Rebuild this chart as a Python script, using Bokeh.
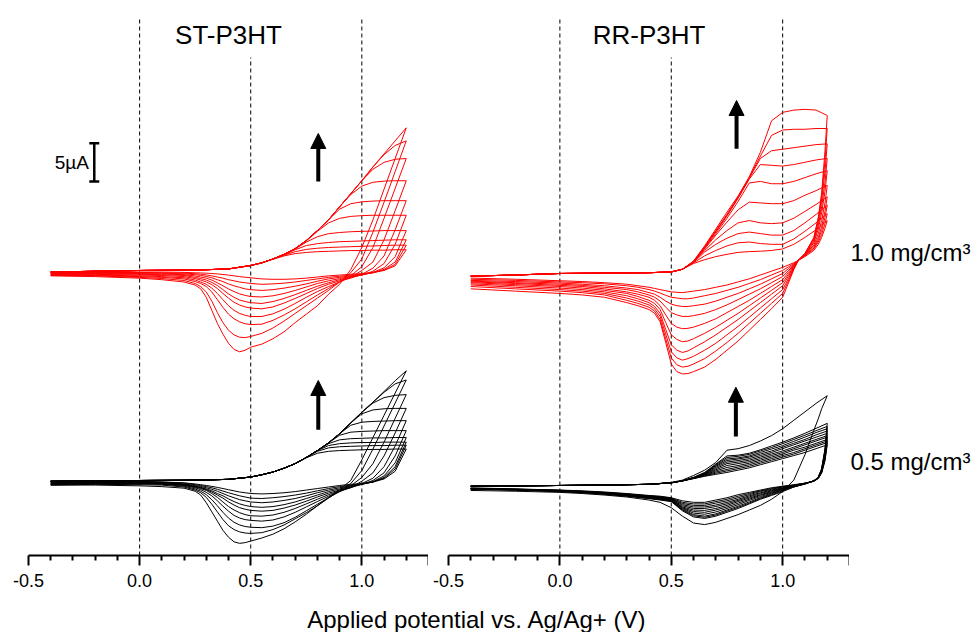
from bokeh.plotting import figure
from bokeh.models import (Range1d, FixedTicker, CustomJSTickFormatter, Label, Arrow,
                          NormalHead, ColumnDataSource)
from bokeh.layouts import row, column
from bokeh.embed import file_html
from bokeh.resources import INLINE

FONT = "Liberation Sans"
RED = "#ff0000"

# ---------------- data (potential in V vs Ag/Ag+, current in uA) ----------------
PANEL_TITLES = ["ST-P3HT", "RR-P3HT"]
CONC_LABELS = ["1.0 mg/cm\u00b3", "0.5 mg/cm\u00b3"]
MAJOR_TICKS = [-0.5, 0.0, 0.5, 1.0, 1.3]
LABELLED_TICKS = [-0.5, 0.0, 0.5, 1.0]
MINOR_TICKS = [-0.4, -0.3, -0.2, -0.1, 0.1, 0.2, 0.3, 0.4, 0.6, 0.7, 0.8, 0.9, 1.1, 1.2]
GUIDE_E = [0.0, 0.5, 1.0]
SCALE_BAR_UA = 5.0

ST_FWD_E = [-0.4, 0.0, 0.2, 0.3, 0.4, 0.5, 0.55, 0.6, 0.65, 0.7, 0.75, 0.8, 0.85, 0.9, 0.95, 1.0, 1.05, 1.1, 1.15, 1.2]
ST_REV_E = [1.2, 1.15, 1.1, 1.05, 1.0, 0.95, 0.9, 0.85, 0.8, 0.75, 0.7, 0.65, 0.6, 0.55, 0.5,
            0.475, 0.45, 0.425, 0.4, 0.375, 0.35, 0.325, 0.3, 0.275, 0.25, 0.2, 0.1, 0.0, -0.2, -0.4]

ST_RED_FWD = [
    [-0.2, 0.0, 0.05, 0.1, 0.2, 0.65, 1.0, 1.45, 1.9, 2.2, 2.35, 2.45, 2.5, 2.55, 2.6, 2.6, 2.65, 2.65, 2.7, 2.7],
    [-0.2, 0.0, 0.05, 0.1, 0.2, 0.65, 1.0, 1.5, 2.0, 2.45, 2.75, 2.9, 3.0, 3.05, 3.1, 3.15, 3.2, 3.25, 3.3, 3.3],
    [-0.2, 0.0, 0.05, 0.1, 0.2, 0.65, 1.0, 1.5, 2.05, 2.7, 3.25, 3.5, 3.65, 3.75, 3.8, 3.85, 3.9, 3.95, 4.0, 4.0],
    [-0.2, 0.0, 0.05, 0.1, 0.2, 0.65, 1.0, 1.5, 2.1, 2.8, 3.7, 4.4, 4.8, 4.95, 5.05, 5.1, 5.15, 5.2, 5.2, 5.2],
    [-0.2, 0.0, 0.05, 0.1, 0.2, 0.65, 1.0, 1.5, 2.1, 2.85, 3.85, 5.1, 6.2, 6.8, 7.05, 7.15, 7.2, 7.2, 7.2, 7.2],
    [-0.2, 0.0, 0.05, 0.1, 0.2, 0.65, 1.0, 1.5, 2.1, 2.85, 3.9, 5.2, 6.6, 8.0, 8.7, 8.95, 9.05, 9.1, 9.1, 9.1],
    [-0.2, 0.0, 0.05, 0.1, 0.2, 0.65, 1.0, 1.5, 2.1, 2.85, 3.9, 5.2, 6.6, 8.3, 9.9, 11.0, 11.5, 11.65, 11.7, 11.7],
    [-0.2, 0.0, 0.05, 0.1, 0.2, 0.65, 1.0, 1.5, 2.1, 2.85, 3.9, 5.2, 6.6, 8.3, 10.0, 11.7, 13.2, 14.1, 14.5, 14.6],
    [-0.2, 0.0, 0.05, 0.1, 0.2, 0.65, 1.0, 1.5, 2.1, 2.85, 3.9, 5.2, 6.6, 8.3, 10.0, 11.7, 13.5, 15.1, 16.3, 16.9],
    [-0.2, 0.0, 0.05, 0.1, 0.2, 0.65, 1.0, 1.5, 2.1, 2.85, 3.9, 5.2, 6.6, 8.3, 10.0, 11.7, 13.5, 15.2, 16.9, 18.6],
]
ST_RED_REV = [
    [2.7, 0.6, 0.0, -0.25, -0.4, -0.5, -0.6, -0.7, -0.85, -1.0, -1.1, -1.15, -1.15, -1.1, -0.95,
     -0.88, -0.8, -0.7, -0.6, -0.52, -0.45, -0.4, -0.35, -0.32, -0.3, -0.25, -0.2, -0.2, -0.2, -0.25],
    [3.3, 0.8, 0.05, -0.3, -0.5, -0.6, -0.75, -0.9, -1.1, -1.3, -1.5, -1.65, -1.75, -1.8, -1.7,
     -1.6, -1.5, -1.35, -1.2, -1.0, -0.85, -0.7, -0.58, -0.48, -0.42, -0.35, -0.3, -0.25, -0.25, -0.3],
    [4.0, 1.1, 0.15, -0.3, -0.55, -0.7, -0.9, -1.1, -1.4, -1.75, -2.05, -2.3, -2.5, -2.6, -2.5,
     -2.4, -2.2, -2.0, -1.75, -1.45, -1.2, -0.95, -0.78, -0.65, -0.55, -0.45, -0.35, -0.3, -0.3, -0.35],
    [5.2, 1.8, 0.35, -0.25, -0.6, -0.8, -1.05, -1.35, -1.7, -2.15, -2.6, -3.0, -3.3, -3.45, -3.4,
     -3.25, -3.05, -2.75, -2.4, -2.0, -1.6, -1.25, -1.0, -0.85, -0.72, -0.55, -0.45, -0.4, -0.4, -0.4],
    [7.2, 3.4, 0.9, -0.1, -0.6, -0.9, -1.2, -1.6, -2.05, -2.6, -3.15, -3.65, -4.05, -4.3, -4.2,
     -4.05, -3.85, -3.5, -3.05, -2.5, -1.95, -1.55, -1.25, -1.05, -0.9, -0.65, -0.55, -0.5, -0.45, -0.45],
    [9.1, 5.3, 1.9, 0.3, -0.5, -1.0, -1.35, -1.8, -2.35, -3.0, -3.65, -4.25, -4.75, -5.0, -4.9,
     -4.75, -4.5, -4.15, -3.6, -3.0, -2.35, -1.85, -1.5, -1.25, -1.05, -0.8, -0.65, -0.6, -0.5, -0.5],
    [11.7, 7.8, 4.0, 1.1, 0.0, -0.9, -1.5, -2.1, -2.75, -3.5, -4.3, -5.05, -5.65, -6.0, -6.0,
     -5.85, -5.6, -5.2, -4.6, -3.8, -3.0, -2.3, -1.8, -1.5, -1.25, -0.95, -0.8, -0.7, -0.6, -0.55],
    [14.6, 10.7, 6.8, 3.0, 0.5, -0.7, -1.5, -2.35, -3.2, -4.1, -5.0, -5.8, -6.5, -7.0, -7.05,
     -6.95, -6.7, -6.3, -5.7, -4.8, -3.8, -2.8, -2.1, -1.7, -1.45, -1.1, -0.9, -0.8, -0.65, -0.6],
    [16.9, 12.9, 8.9, 5.0, 1.5, -0.3, -1.5, -2.6, -3.6, -4.6, -5.6, -6.6, -7.5, -8.2, -8.6,
     -8.75, -8.7, -8.4, -7.8, -6.8, -5.5, -4.0, -2.8, -2.1, -1.7, -1.3, -1.05, -0.9, -0.7, -0.65],
    [18.6, 14.6, 10.6, 6.6, 3.0, 0.1, -1.8, -3.1, -4.6, -5.7, -6.8, -8.0, -8.9, -9.6, -10.0,
     -10.4, -10.6, -10.3, -9.5, -8.3, -6.9, -5.2, -3.5, -2.4, -1.9, -1.5, -1.2, -1.0, -0.8, -0.7],
]

ST_BLACK_FWD = [
    [-0.1, 0.0, 0.03, 0.07, 0.15, 0.45, 0.75, 1.1, 1.6, 2.2, 2.95, 3.55, 3.8, 3.9, 3.95, 4.0, 4.05, 4.05, 4.1, 4.1],
    [-0.1, 0.0, 0.03, 0.07, 0.15, 0.45, 0.75, 1.1, 1.6, 2.2, 3.0, 3.8, 4.25, 4.4, 4.45, 4.5, 4.55, 4.55, 4.6, 4.6],
    [-0.1, 0.0, 0.03, 0.07, 0.15, 0.45, 0.75, 1.1, 1.6, 2.2, 3.0, 3.9, 4.55, 4.8, 4.9, 4.95, 4.95, 5.0, 5.0, 5.0],
    [-0.1, 0.0, 0.03, 0.07, 0.15, 0.45, 0.75, 1.1, 1.6, 2.2, 3.0, 3.9, 4.8, 5.3, 5.45, 5.5, 5.55, 5.55, 5.6, 5.6],
    [-0.1, 0.0, 0.03, 0.07, 0.15, 0.45, 0.75, 1.1, 1.6, 2.2, 3.0, 3.9, 4.9, 5.9, 6.3, 6.4, 6.45, 6.5, 6.5, 6.5],
    [-0.1, 0.0, 0.03, 0.07, 0.15, 0.45, 0.75, 1.1, 1.6, 2.2, 3.0, 3.9, 4.9, 6.1, 7.2, 7.6, 7.7, 7.75, 7.8, 7.8],
    [-0.1, 0.0, 0.03, 0.07, 0.15, 0.45, 0.75, 1.1, 1.6, 2.2, 3.0, 3.9, 4.9, 6.1, 7.5, 8.7, 9.2, 9.35, 9.4, 9.4],
    [-0.1, 0.0, 0.03, 0.07, 0.15, 0.45, 0.75, 1.1, 1.6, 2.2, 3.0, 3.9, 4.9, 6.1, 7.5, 8.9, 10.1, 10.8, 11.1, 11.2],
    [-0.1, 0.0, 0.03, 0.07, 0.15, 0.45, 0.75, 1.1, 1.6, 2.2, 3.0, 3.9, 4.9, 6.1, 7.5, 8.9, 10.2, 11.5, 12.6, 13.1],
    [-0.1, 0.0, 0.03, 0.07, 0.15, 0.45, 0.75, 1.1, 1.6, 2.2, 3.0, 3.9, 4.9, 6.1, 7.5, 8.9, 10.2, 11.6, 13.0, 14.3],
]
ST_BLACK_REV = [
    [4.1, 1.2, 0.2, -0.2, -0.4, -0.5, -0.65, -0.85, -1.05, -1.25, -1.45, -1.6, -1.7, -1.75, -1.7,
     -1.6, -1.5, -1.35, -1.2, -1.05, -0.9, -0.77, -0.65, -0.55, -0.45, -0.3, -0.2, -0.1, -0.1, -0.2],
    [4.6, 1.5, 0.3, -0.2, -0.45, -0.6, -0.8, -1.05, -1.35, -1.65, -1.9, -2.1, -2.25, -2.35, -2.3,
     -2.15, -2.0, -1.8, -1.6, -1.38, -1.15, -0.95, -0.8, -0.66, -0.55, -0.35, -0.2, -0.15, -0.15, -0.25],
    [5.0, 1.8, 0.4, -0.2, -0.5, -0.7, -0.95, -1.25, -1.6, -2.0, -2.35, -2.6, -2.8, -2.9, -2.8,
     -2.65, -2.5, -2.25, -2.0, -1.7, -1.4, -1.15, -0.95, -0.78, -0.65, -0.45, -0.25, -0.2, -0.2, -0.3],
    [5.6, 2.3, 0.6, -0.15, -0.5, -0.8, -1.1, -1.45, -1.9, -2.35, -2.8, -3.15, -3.4, -3.5, -3.4,
     -3.25, -3.05, -2.75, -2.4, -2.0, -1.7, -1.35, -1.1, -0.9, -0.75, -0.5, -0.3, -0.25, -0.25, -0.35],
    [6.5, 3.2, 1.0, 0.0, -0.5, -0.9, -1.25, -1.65, -2.15, -2.7, -3.2, -3.6, -3.9, -4.0, -3.9,
     -3.75, -3.55, -3.2, -2.8, -2.3, -1.9, -1.5, -1.2, -0.95, -0.8, -0.55, -0.35, -0.3, -0.3, -0.4],
    [7.8, 4.5, 1.8, 0.3, -0.4, -0.95, -1.35, -1.85, -2.45, -3.05, -3.65, -4.15, -4.5, -4.65, -4.6,
     -4.45, -4.2, -3.85, -3.4, -2.8, -2.2, -1.7, -1.3, -1.05, -0.85, -0.6, -0.4, -0.35, -0.35, -0.45],
    [9.4, 6.2, 3.2, 1.0, -0.1, -0.9, -1.45, -2.05, -2.75, -3.45, -4.15, -4.75, -5.15, -5.3, -5.2,
     -5.1, -4.9, -4.55, -4.0, -3.35, -2.65, -2.0, -1.55, -1.2, -0.95, -0.65, -0.45, -0.4, -0.4, -0.5],
    [11.2, 8.1, 5.0, 2.2, 0.4, -0.7, -1.45, -2.25, -3.1, -3.95, -4.8, -5.5, -5.95, -6.15, -6.1,
     -6.0, -5.8, -5.45, -4.9, -4.15, -3.3, -2.5, -1.85, -1.4, -1.1, -0.75, -0.5, -0.45, -0.45, -0.55],
    [13.1, 10.1, 7.1, 4.1, 1.3, -0.4, -1.35, -2.3, -3.3, -4.2, -5.0, -5.8, -6.4, -6.8, -6.9,
     -6.85, -6.7, -6.4, -5.9, -5.1, -4.1, -3.1, -2.2, -1.6, -1.25, -0.85, -0.6, -0.55, -0.5, -0.6],
    [14.3, 11.4, 8.5, 5.6, 2.7, 0.0, -1.2, -2.2, -3.3, -4.4, -5.4, -6.3, -7.0, -7.5, -7.9,
     -8.1, -8.2, -8.0, -7.4, -6.5, -5.3, -4.1, -2.9, -1.9, -1.4, -1.0, -0.8, -0.7, -0.6, -0.6],
]

RR_FWD_E = [-0.4, -0.2, 0.0, 0.2, 0.4, 0.5, 0.55, 0.6, 0.65, 0.7, 0.75, 0.8, 0.85, 0.9, 0.95, 1.0, 1.05, 1.1, 1.15, 1.2]
RR_RED_REV_E = [1.2, 1.19, 1.175, 1.16, 1.14, 1.1, 1.07, 1.05, 1.025, 1.0, 0.95, 0.9, 0.85, 0.8, 0.75, 0.7, 0.65,
                0.6, 0.575, 0.55, 0.525, 0.5, 0.475, 0.45, 0.425, 0.4, 0.35, 0.3, 0.2, 0.1, 0.0, -0.2, -0.4]
RR_BLACK_REV_E = [1.2, 1.19, 1.175, 1.16, 1.14, 1.1, 1.05, 1.0, 0.95, 0.9, 0.85, 0.8, 0.75, 0.7, 0.65, 0.6,
                  0.55, 0.5, 0.45, 0.4, 0.3, 0.2, 0.1, 0.0, -0.2, -0.4]

RR_RED_FWD = [
    [-0.35, -0.2, 0.0, 0.05, 0.1, 0.2, 0.55, 1.3, 1.8, 2.2, 2.5, 2.75, 2.85, 2.9, 3.0, 3.2, 3.8, 4.7, 5.7, 6.9],
    [-0.35, -0.2, 0.0, 0.05, 0.1, 0.2, 0.55, 1.4, 2.3, 3.0, 3.6, 4.0, 4.1, 3.9, 3.8, 3.8, 4.5, 5.5, 6.6, 7.8],
    [-0.35, -0.2, 0.0, 0.05, 0.1, 0.2, 0.55, 1.45, 2.8, 3.8, 4.6, 5.2, 5.4, 5.2, 5.0, 5.0, 5.6, 6.6, 7.7, 8.9],
    [-0.35, -0.2, 0.0, 0.05, 0.1, 0.2, 0.55, 1.5, 3.0, 4.4, 5.6, 6.6, 6.9, 6.6, 6.5, 6.6, 7.2, 8.1, 9.0, 10.0],
    [-0.35, -0.2, 0.0, 0.05, 0.1, 0.2, 0.55, 1.5, 3.2, 5.0, 6.7, 8.3, 9.3, 9.2, 9.1, 9.1, 9.5, 10.2, 10.8, 11.5],
    [-0.35, -0.2, 0.0, 0.05, 0.1, 0.2, 0.55, 1.5, 3.3, 5.2, 7.2, 9.4, 11.8, 12.0, 11.7, 11.7, 12.0, 12.5, 13.0, 13.4],
    [-0.35, -0.2, 0.0, 0.05, 0.1, 0.2, 0.55, 1.55, 3.4, 5.4, 7.5, 9.8, 12.3, 14.2, 14.1, 14.0, 14.2, 14.5, 14.8, 15.0],
    [-0.35, -0.2, 0.0, 0.05, 0.1, 0.2, 0.55, 1.55, 3.5, 5.5, 7.6, 9.9, 12.4, 15.0, 16.0, 16.2, 16.4, 16.6, 16.8, 16.9],
    [-0.35, -0.2, 0.0, 0.05, 0.1, 0.2, 0.55, 1.6, 3.5, 5.6, 7.7, 10.0, 12.5, 15.3, 18.0, 18.7, 18.8, 18.8, 18.9, 18.9],
    [-0.35, -0.2, 0.0, 0.05, 0.1, 0.2, 0.55, 1.6, 3.6, 5.8, 8.0, 10.1, 12.6, 15.8, 19.9, 21.0, 21.3, 21.4, 21.3, 20.6],
]
RR_RED_REV = [
    [6.9, 5.9, 4.7, 3.8, 3.0, 2.2, 1.7, 1.4, 1.1, 0.8, 0.3, -0.2, -0.7, -1.1, -1.5, -1.8, -2.1,
     -2.3, -2.4, -2.5, -2.45, -2.4, -2.25, -2.1, -1.95, -1.8, -1.6, -1.4, -1.2, -1.05, -0.95, -0.75, -0.6],
    [7.8, 6.5, 5.1, 4.1, 3.2, 2.3, 1.7, 1.3, 0.85, 0.4, -0.2, -0.8, -1.3, -1.8, -2.2, -2.6, -2.9,
     -3.2, -3.3, -3.3, -3.2, -3.1, -2.85, -2.55, -2.3, -2.1, -1.8, -1.6, -1.35, -1.2, -1.1, -0.9, -0.75],
    [8.9, 7.3, 5.6, 4.4, 3.3, 2.4, 1.7, 1.2, 0.6, 0.0, -0.7, -1.4, -2.0, -2.6, -3.1, -3.6, -4.0,
     -4.2, -4.3, -4.3, -4.2, -4.0, -3.6, -3.1, -2.7, -2.5, -2.1, -1.9, -1.6, -1.4, -1.25, -1.05, -0.9],
    [10.0, 8.1, 6.1, 4.7, 3.5, 2.4, 1.7, 1.1, 0.35, -0.4, -1.2, -2.0, -2.7, -3.4, -4.1, -4.7, -5.2,
     -5.5, -5.6, -5.6, -5.4, -5.1, -4.4, -3.6, -3.1, -2.8, -2.4, -2.1, -1.8, -1.55, -1.4, -1.2, -1.0],
    [11.5, 9.2, 6.9, 5.2, 3.7, 2.5, 1.7, 1.0, 0.1, -0.8, -1.7, -2.6, -3.5, -4.3, -5.1, -5.9, -6.5,
     -7.0, -7.15, -7.2, -7.0, -6.5, -5.4, -4.2, -3.5, -3.1, -2.7, -2.4, -2.0, -1.7, -1.55, -1.3, -1.1],
    [13.4, 10.7, 7.9, 5.8, 4.0, 2.5, 1.7, 0.9, -0.15, -1.2, -2.2, -3.2, -4.2, -5.2, -6.1, -7.0, -7.8,
     -8.5, -8.8, -8.9, -8.6, -8.0, -6.4, -4.7, -3.9, -3.5, -3.0, -2.6, -2.2, -1.9, -1.7, -1.45, -1.2],
    [15.0, 11.9, 8.7, 6.3, 4.2, 2.5, 1.7, 0.8, -0.4, -1.6, -2.7, -3.8, -4.9, -6.0, -7.0, -8.0, -8.9,
     -9.7, -10.1, -10.3, -10.0, -9.3, -7.3, -5.2, -4.3, -3.8, -3.3, -2.9, -2.4, -2.1, -1.9, -1.6, -1.35],
    [16.9, 13.3, 9.5, 6.8, 4.4, 2.6, 1.7, 0.7, -0.7, -2.1, -3.3, -4.5, -5.7, -6.9, -8.0, -9.1, -10.0,
     -10.8, -11.1, -11.3, -11.0, -10.2, -7.9, -5.6, -4.6, -4.1, -3.6, -3.2, -2.6, -2.3, -2.1, -1.8, -1.5],
    [18.9, 14.7, 10.1, 7.1, 4.6, 2.6, 1.7, 0.6, -1.0, -2.6, -3.9, -5.2, -6.5, -7.8, -9.0, -10.1, -11.1,
     -11.8, -12.1, -12.2, -11.9, -11.0, -8.5, -6.0, -4.9, -4.4, -3.9, -3.5, -2.8, -2.5, -2.3, -2.0, -1.7],
    [20.6, 16.0, 10.5, 7.3, 4.7, 2.6, 1.7, 0.5, -1.3, -3.1, -4.6, -6.0, -7.4, -8.8, -10.0, -11.2, -12.2,
     -12.8, -13.05, -13.1, -12.8, -11.8, -9.0, -6.3, -5.2, -4.7, -4.2, -3.8, -3.1, -2.8, -2.6, -2.3, -2.0],
]

RR_BLACK_FWD = [
    [-0.2, -0.1, 0.0, 0.05, 0.15, 0.4, 0.7, 1.3, 2.0, 3.0, 4.6, 4.8, 5.2, 5.8, 6.5, 7.4, 8.5, 9.6, 10.7, 11.7],
    [-0.1, -0.05, 0.0, 0.05, 0.15, 0.35, 0.6, 0.9, 1.2, 1.45, 1.7, 2.0, 2.3, 2.7, 3.1, 3.5, 3.9, 4.3, 4.8, 5.3],
    [-0.1, -0.05, 0.0, 0.05, 0.15, 0.35, 0.6, 0.9, 1.25, 1.6, 1.9, 2.2, 2.5, 2.9, 3.3, 3.7, 4.1, 4.6, 5.1, 5.6],
    [-0.1, -0.05, 0.0, 0.05, 0.15, 0.35, 0.6, 0.95, 1.3, 1.75, 2.1, 2.4, 2.7, 3.1, 3.5, 3.9, 4.3, 4.8, 5.3, 5.8],
    [-0.1, -0.05, 0.0, 0.05, 0.15, 0.35, 0.6, 0.95, 1.35, 1.9, 2.35, 2.6, 2.9, 3.3, 3.7, 4.1, 4.6, 5.0, 5.5, 6.0],
    [-0.1, -0.05, 0.0, 0.05, 0.15, 0.35, 0.6, 0.95, 1.4, 2.05, 2.6, 2.85, 3.1, 3.5, 3.9, 4.3, 4.8, 5.3, 5.8, 6.3],
    [-0.1, -0.05, 0.0, 0.05, 0.15, 0.35, 0.6, 1.0, 1.45, 2.2, 2.85, 3.05, 3.3, 3.7, 4.1, 4.5, 5.0, 5.5, 6.0, 6.5],
    [-0.1, -0.05, 0.0, 0.05, 0.15, 0.35, 0.6, 1.0, 1.5, 2.35, 3.05, 3.25, 3.5, 3.9, 4.3, 4.8, 5.3, 5.8, 6.3, 6.8],
    [-0.1, -0.05, 0.0, 0.05, 0.15, 0.35, 0.6, 1.0, 1.55, 2.5, 3.25, 3.45, 3.7, 4.1, 4.5, 5.0, 5.5, 6.0, 6.6, 7.1],
    [-0.1, -0.05, 0.0, 0.05, 0.15, 0.35, 0.6, 1.0, 1.6, 2.6, 3.45, 3.6, 3.85, 4.3, 4.75, 5.2, 5.75, 6.3, 6.9, 7.4],
    [-0.1, -0.05, 0.0, 0.05, 0.15, 0.35, 0.6, 1.05, 1.65, 2.7, 3.65, 3.8, 4.05, 4.5, 4.95, 5.45, 6.0, 6.55, 7.15, 7.7],
    [-0.1, -0.05, 0.0, 0.05, 0.15, 0.35, 0.6, 1.05, 1.7, 2.8, 3.85, 3.95, 4.2, 4.65, 5.15, 5.65, 6.2, 6.8, 7.45, 8.1],
]
RR_BLACK_REV = [
    [11.7, 11.0, 10.0, 8.7, 7.2, 4.0, 0.7, -0.8, -1.8, -2.6, -3.2, -3.8, -4.3, -4.8, -5.1, -4.9, -4.0, -2.9, -2.2, -1.9, -1.5, -1.25, -1.05, -0.9, -0.75, -0.65],
    [5.3, 3.2, 1.6, 0.9, 0.55, 0.3, 0.1, -0.1, -0.3, -0.6, -0.9, -1.2, -1.6, -1.9, -2.2, -2.2, -2.0, -1.6, -1.4, -1.3, -1.05, -0.85, -0.7, -0.6, -0.45, -0.35],
    [5.6, 3.4, 1.7, 0.95, 0.55, 0.3, 0.05, -0.15, -0.4, -0.7, -1.05, -1.4, -1.8, -2.1, -2.4, -2.4, -2.2, -1.65, -1.45, -1.35, -1.1, -0.9, -0.75, -0.62, -0.47, -0.37],
    [5.8, 3.5, 1.75, 0.95, 0.55, 0.3, 0.0, -0.2, -0.5, -0.8, -1.2, -1.6, -2.0, -2.3, -2.6, -2.6, -2.35, -1.7, -1.5, -1.4, -1.12, -0.92, -0.77, -0.64, -0.49, -0.39],
    [6.0, 3.6, 1.8, 1.0, 0.6, 0.25, -0.05, -0.3, -0.6, -0.95, -1.35, -1.8, -2.2, -2.55, -2.8, -2.8, -2.5, -1.75, -1.55, -1.42, -1.15, -0.95, -0.8, -0.66, -0.5, -0.4],
    [6.3, 3.8, 1.85, 1.0, 0.6, 0.25, -0.05, -0.35, -0.7, -1.05, -1.5, -1.95, -2.4, -2.75, -3.0, -3.0, -2.65, -1.8, -1.6, -1.45, -1.17, -0.97, -0.82, -0.68, -0.52, -0.42],
    [6.5, 3.9, 1.9, 1.0, 0.6, 0.25, -0.1, -0.4, -0.8, -1.2, -1.65, -2.1, -2.6, -3.0, -3.25, -3.2, -2.8, -1.85, -1.65, -1.5, -1.2, -1.0, -0.84, -0.7, -0.54, -0.44],
    [6.8, 4.1, 1.95, 1.05, 0.6, 0.25, -0.1, -0.45, -0.9, -1.3, -1.8, -2.3, -2.8, -3.2, -3.5, -3.4, -2.9, -1.9, -1.7, -1.55, -1.25, -1.03, -0.86, -0.72, -0.56, -0.45],
    [7.1, 4.3, 2.0, 1.05, 0.6, 0.2, -0.15, -0.55, -1.0, -1.45, -1.95, -2.5, -3.0, -3.45, -3.75, -3.6, -3.0, -1.95, -1.75, -1.6, -1.3, -1.06, -0.88, -0.74, -0.57, -0.46],
    [7.4, 4.5, 2.1, 1.1, 0.6, 0.2, -0.15, -0.6, -1.1, -1.6, -2.15, -2.7, -3.2, -3.7, -4.0, -3.8, -3.1, -2.0, -1.8, -1.65, -1.33, -1.1, -0.9, -0.76, -0.58, -0.47],
    [7.7, 4.6, 2.15, 1.1, 0.6, 0.2, -0.2, -0.7, -1.2, -1.7, -2.3, -2.85, -3.35, -3.85, -4.15, -3.95, -3.2, -2.05, -1.85, -1.7, -1.37, -1.12, -0.92, -0.78, -0.59, -0.48],
    [8.1, 4.8, 2.2, 1.1, 0.6, 0.2, -0.2, -0.8, -1.3, -1.8, -2.4, -3.0, -3.5, -4.0, -4.3, -4.1, -3.3, -2.1, -1.9, -1.7, -1.4, -1.15, -0.95, -0.8, -0.6, -0.5],
]

# ---------------- layout constants (screen geometry expressed in axis units) ----------------
PX_PER_UA = 7.67
Y_TOP = 555 / PX_PER_UA
ST_OFFSETS = (37.16, 9.78)
RR_OFFSETS = (36.77, 9.13)


def cycles(fwd_e, rev_e, fwd, rev, offset):
    xs, ys = [], []
    for i, (f, r) in enumerate(zip(fwd, rev)):
        assert len(f) == len(fwd_e), ("fwd", i, len(f))
        assert len(r) == len(rev_e), ("rev", i, len(r))
        xs.append(list(fwd_e) + list(rev_e))
        ys.append([v + offset for v in f] + [v + offset for v in r])
    return xs, ys


TICK_CODE = """
const labelled = %s;
for (const t of labelled) { if (Math.abs(tick - t) < 1e-6) return tick.toFixed(1); }
return "";
""" % str(LABELLED_TICKS)


def make_panel(width, border_left, title):
    p = figure(width=width, height=600, x_range=Range1d(-0.5, 1.3), y_range=Range1d(0, Y_TOP),
               toolbar_location=None, output_backend="svg", y_axis_location=None,
               min_border_left=border_left, min_border_right=0, min_border_top=0,
               min_border_bottom=45)
    p.grid.visible = False
    p.outline_line_color = None
    p.background_fill_color = "white"
    p.border_fill_color = "white"
    ax = p.xaxis[0]
    ax.ticker = FixedTicker(ticks=MAJOR_TICKS, minor_ticks=MINOR_TICKS)
    ax.formatter = CustomJSTickFormatter(code=TICK_CODE)
    ax.axis_line_width = 2
    ax.axis_line_color = "black"
    ax.major_tick_line_width = 2
    ax.minor_tick_line_width = 2
    ax.major_tick_out = 10
    ax.major_tick_in = 0
    ax.minor_tick_out = 5
    ax.minor_tick_in = 0
    ax.major_label_text_font = FONT
    ax.major_label_text_font_size = "18px"
    ax.major_label_text_color = "black"
    ax.major_label_standoff = 8
    tops = [70.27, 64.93, 70.27]
    p.segment(x0=GUIDE_E, y0=[0, 0, 0], x1=GUIDE_E, y1=tops, line_color="black",
              line_width=1, line_dash="4 3")
    p.add_layout(Label(x=0.4, y=67.8, text=title, text_align="center", text_baseline="middle",
                       text_font=FONT, text_font_size="26px", text_color="black"))
    return p


def add_cvs(p, fwd_e, rev_e, fwd, rev, offset, color):
    xs, ys = cycles(fwd_e, rev_e, fwd, rev, offset)
    p.multi_line(xs="xs", ys="ys", source=ColumnDataSource(dict(xs=xs, ys=ys)),
                 line_color=color, line_width=1, line_join="round")


def add_arrow(p, x, y0, y1):
    p.add_layout(Arrow(end=NormalHead(size=15, fill_color="black", line_color="black"),
                       x_start=x, y_start=y0, x_end=x, y_end=y1,
                       line_color="black", line_width=4))


left = make_panel(428, 28, PANEL_TITLES[0])
add_cvs(left, ST_FWD_E, ST_REV_E, ST_RED_FWD, ST_RED_REV, ST_OFFSETS[0], RED)
add_cvs(left, ST_FWD_E, ST_REV_E, ST_BLACK_FWD, ST_BLACK_REV, ST_OFFSETS[1], "black")
add_arrow(left, 0.804, 48.76, 55.02)
add_arrow(left, 0.804, 16.39, 22.82)

bar_x = -0.204
bar_y0 = 48.76
cap = 0.0225
left.segment(x0=[bar_x, bar_x - cap, bar_x - cap], y0=[bar_y0, bar_y0, bar_y0 + SCALE_BAR_UA],
             x1=[bar_x, bar_x + cap, bar_x + cap], y1=[bar_y0 + SCALE_BAR_UA, bar_y0, bar_y0 + SCALE_BAR_UA],
             line_color="black", line_width=2.5)
left.add_layout(Label(x=-0.228, y=bar_y0 + SCALE_BAR_UA / 2, text="5\u00b5A", text_align="right",
                      text_baseline="middle", text_font=FONT, text_font_size="19px", text_color="black"))

right = make_panel(421, 20, PANEL_TITLES[1])
add_cvs(right, RR_FWD_E, RR_RED_REV_E, RR_RED_FWD, RR_RED_REV, RR_OFFSETS[0], RED)
add_cvs(right, RR_FWD_E, RR_BLACK_REV_E, RR_BLACK_FWD, RR_BLACK_REV, RR_OFFSETS[1], "black")
add_arrow(right, 0.793, 53.02, 59.32)
add_arrow(right, 0.79, 15.51, 21.94)

lab = figure(width=125, height=600, x_range=Range1d(0, 125), y_range=Range1d(0, Y_TOP),
             toolbar_location=None, output_backend="svg", x_axis_location=None, y_axis_location=None,
             min_border_left=0, min_border_right=0, min_border_top=0, min_border_bottom=45)
lab.grid.visible = False
lab.outline_line_color = None
for txt, yy in zip(CONC_LABELS, [39.5, 12.3]):
    lab.add_layout(Label(x=1, y=yy, text=txt, text_align="left", text_baseline="middle",
                         text_font=FONT, text_font_size="24px", text_color="black"))

ttl = figure(width=974, height=32, x_range=Range1d(0, 974), y_range=Range1d(0, 32),
             toolbar_location=None, output_backend="svg", x_axis_location=None, y_axis_location=None,
             min_border=0)
ttl.grid.visible = False
ttl.outline_line_color = None
ttl.add_layout(Label(x=476.5, y=13, text="Applied potential vs. Ag/Ag+ (V)", text_align="center",
                     text_baseline="alphabetic", text_font=FONT, text_font_size="24px",
                     text_color="black"))

layout = column(row(left, right, lab), ttl)
open("out.html", "w").write(file_html(layout, INLINE))
